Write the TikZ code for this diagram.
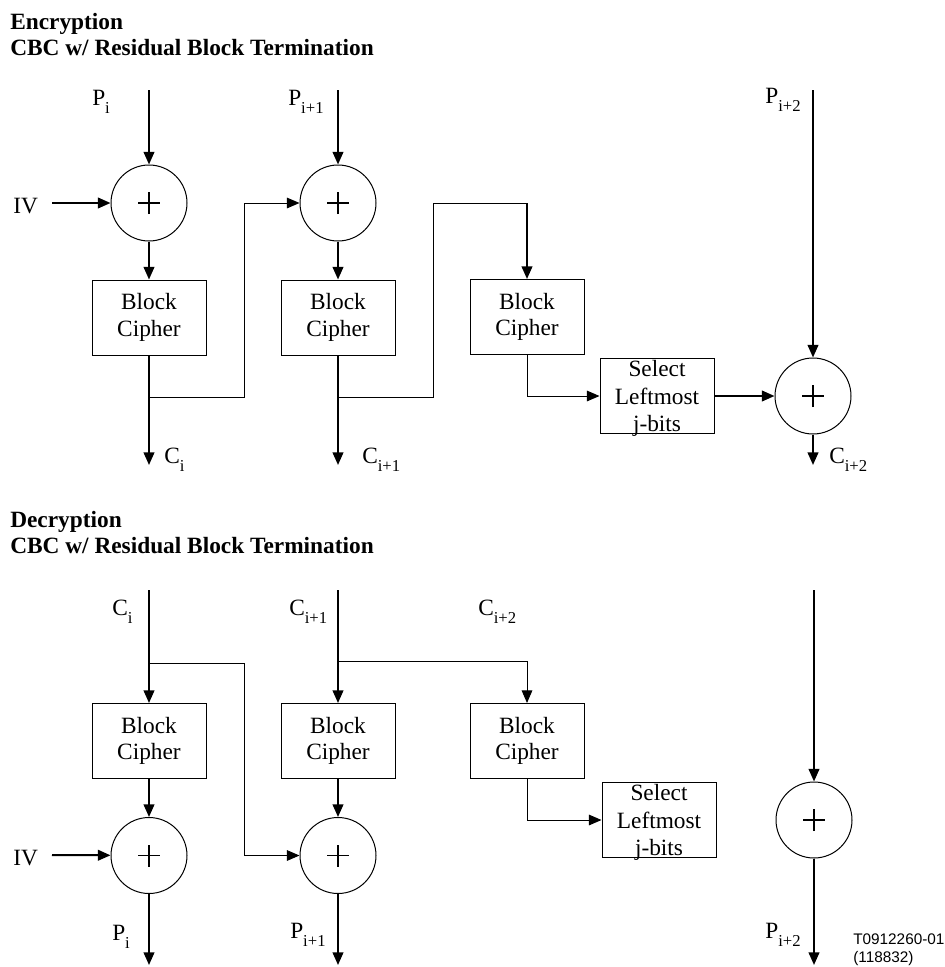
\documentclass[tikz,border=0pt]{standalone}
\usepackage{fontspec}
\setmainfont{Liberation Serif}
\newfontfamily\notefont{Liberation Sans}
\usetikzlibrary{arrows.meta, positioning}
\newcommand{\idx}[1]{\raisebox{-6pt}{\fontsize{12.5}{12.5}\selectfont #1}}

\begin{document}
\begin{tikzpicture}[
    x=0.75pt, y=-0.75pt,
    node distance=28.5pt,
    every node/.style={font=\fontsize{17.5}{20}\selectfont},
    thickarrow/.style={-{Triangle[length=9.5pt,width=8pt]}, line width=1.5pt},
    thinarrow/.style={-{Triangle[length=9.5pt,width=8pt]}, line width=0.75pt},
    thinline/.style={line width=0.75pt},
    cipher/.style={rectangle, draw, line width=0.75pt, minimum width=85.5pt, minimum height=56.25pt, align=center, inner sep=0pt},
    selbox/.style={cipher, text depth=0pt, font=\fontsize{17.5}{20.5}\selectfont},
    xorsym/.style={circle, draw, line width=0.75pt, minimum size=57pt, inner sep=0pt,
        path picture={\draw[line width=1pt]
            ([xshift=-8.25pt]path picture bounding box.center) -- ([xshift=8.25pt]path picture bounding box.center)
            ([yshift=-8.25pt]path picture bounding box.center) -- ([yshift=8.25pt]path picture bounding box.center);}},
    lbl/.style={inner sep=0pt, anchor=base west},
    title/.style={inner sep=0pt, anchor=base west, font=\fontsize{17.5}{19.5}\selectfont\bfseries},
    note/.style={inner sep=0pt, anchor=north west, align=left, font=\notefont\fontsize{11.5}{13.5}\selectfont}
]
\useasboundingbox (0,0) rectangle (945,967);

% ---------- encryption ----------
\node[title] (etitle) at (10,29) {Encryption};
\node[title] (esub) at (10,55) {CBC w/ Residual Block Termination};

\node[xorsym] (ex1) at (149,203) {};
\node[cipher, below=of ex1] (eb1) {Block\\Cipher};
\node[xorsym] (ex2) at (338,203) {};
\node[cipher, below=of ex2] (eb2) {Block\\Cipher};
\node[cipher] (eb3) at (527,317) {Block\\Cipher};
\node[xorsym] (ex3) at (813,396) {};
\node[selbox, left=45pt of ex3] (es) {Select\\Leftmost\\j-bits};

\coordinate (ep1) at (149,90);
\coordinate (ep2) at (338,90);
\coordinate (ep3) at (813,90);
\coordinate (eiv) at (52,203);
\coordinate (ej1) at (149,397);
\coordinate (ej2) at (338,397);
\coordinate (ek) at (527,203);
\coordinate (ec1) at (149,465);
\coordinate (ec2) at (338,465);
\coordinate (ec3) at (813,465);

\node[lbl] (lp1) at (92,105) {P\idx{i}};
\node[lbl] (lp2) at (288,105) {P\idx{i+1}};
\node[lbl] (lp3) at (765,103) {P\idx{i+2}};
\node[lbl] (liv) at (13,213) {IV};
\node[lbl] (lc1) at (164,463) {C\idx{i}};
\node[lbl] (lc2) at (362,463) {C\idx{i+1}};
\node[lbl] (lc3) at (829,463) {C\idx{i+2}};

\draw[thickarrow] (ep1) -- (ex1);
\draw[thickarrow] (eiv) -- (ex1);
\draw[thickarrow] (ex1) -- (eb1);
\draw[thickarrow] (eb1) -- (ec1);
\draw[thinarrow] (ej1) -- (244,397) |- (ex2);
\draw[thickarrow] (ep2) -- (ex2);
\draw[thickarrow] (ex2) -- (eb2);
\draw[thickarrow] (eb2) -- (ec2);
\draw[thinline] (ej2) -- (433,397) |- (ek);
\draw[thickarrow] (ek) -- (eb3);
\draw[thinarrow] (eb3) |- (es);
\draw[thickarrow] (es) -- (ex3);
\draw[thickarrow] (ep3) -- (ex3);
\draw[thickarrow] (ex3) -- (ec3);

% ---------- decryption ----------
\node[title] (dtitle) at (10,527) {Decryption};
\node[title] (dsub) at (10,553) {CBC w/ Residual Block Termination};

\node[cipher] (db1) at (149,741) {Block\\Cipher};
\node[xorsym, below=of db1] (dx1) {};
\node[cipher] (db2) at (338,741) {Block\\Cipher};
\node[xorsym, below=of db2] (dx2) {};
\node[cipher] (db3) at (527,741) {Block\\Cipher};
\node[selbox] (ds) at (659,820) {Select\\Leftmost\\j-bits};
\node[xorsym] (dx3) at (814,820) {};

\coordinate (dc1) at (149,590);
\coordinate (dc2) at (338,590);
\coordinate (dc3) at (814,590);
\coordinate (djl) at (149,663);
\coordinate (djr) at (338,661);
\coordinate (div) at (52,855);
\coordinate (dp1) at (149,965);
\coordinate (dp2) at (338,965);
\coordinate (dp3) at (814,965);

\node[lbl] (lc4) at (112,615) {C\idx{i}};
\node[lbl] (lc5) at (289,615) {C\idx{i+1}};
\node[lbl] (lc6) at (478,615) {C\idx{i+2}};
\node[lbl] (ldiv) at (13,865) {IV};
\node[lbl] (lp4) at (112,940) {P\idx{i}};
\node[lbl] (lp5) at (290,938) {P\idx{i+1}};
\node[lbl] (lp6) at (765,938) {P\idx{i+2}};

\draw[thickarrow] (dc1) -- (db1);
\draw[thinarrow] (djl) -- (244,663) |- (dx2);
\draw[thickarrow] (db1) -- (dx1);
\draw[thickarrow] (div) -- (dx1);
\draw[thickarrow] (dx1) -- (dp1);
\draw[thickarrow] (dc2) -- (db2);
\draw[thinarrow] (djr) -| (db3);
\draw[thickarrow] (db2) -- (dx2);
\draw[thickarrow] (dx2) -- (dp2);
\draw[thinarrow] (db3) |- (ds);
\draw[thickarrow] (dc3) -- (dx3);
\draw[thickarrow] (dx3) -- (dp3);

\node[note] (fig) at (853,934) {T0912260-01\\(118832)};
\end{tikzpicture}
\end{document}
